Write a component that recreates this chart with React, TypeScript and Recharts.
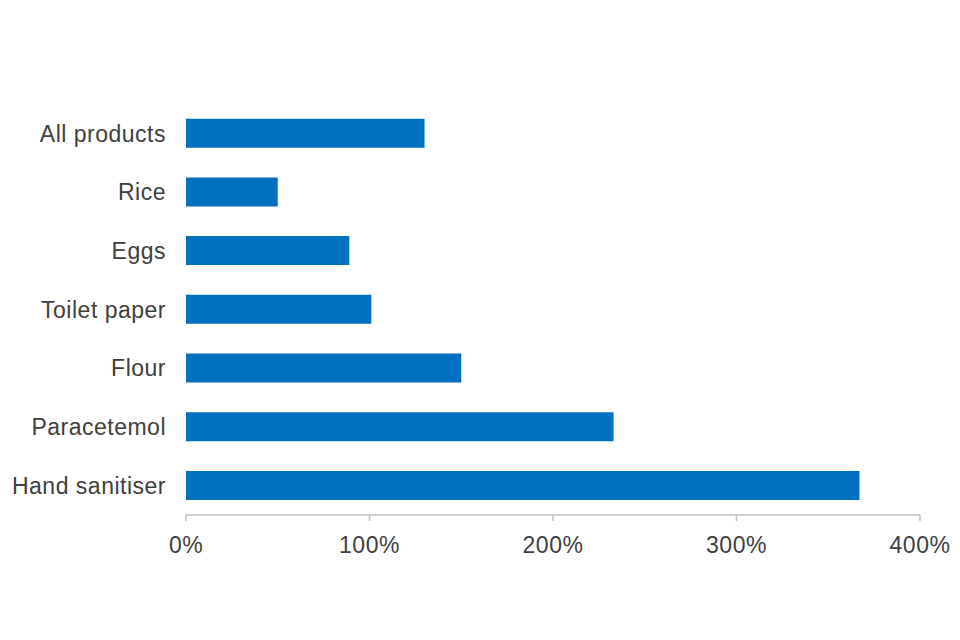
import { Bar, BarChart, XAxis, YAxis } from 'recharts';

const products = ['All products', 'Rice', 'Eggs', 'Toilet paper', 'Flour', 'Paracetemol', 'Hand sanitiser'];
const increase = [130, 50, 89, 101, 150, 233, 367];
const xTicks = [0, 100, 200, 300, 400];

const rows = products.map((name, i) => ({ name, value: increase[i] }));

const font = {
  fontFamily: 'Liberation Sans, Arial, sans-serif',
  fontSize: 23,
  letterSpacing: 0.5,
  fill: '#404040',
};

export default function App() {
  return (
    <div style={{ width: 960, height: 640, background: '#fff' }}>
      <style>{'body{margin:0}'}</style>
      <BarChart
        width={960}
        height={640}
        data={rows}
        layout="vertical"
        margin={{ top: 104, right: 40, bottom: 65, left: 0 }}
        barCategoryGap="25%"
      >
        <XAxis
          type="number"
          domain={[0, 400]}
          ticks={xTicks}
          tickFormatter={(v: number) => `${v}%`}
          axisLine={{ stroke: '#BFBFBF', strokeWidth: 1.5 }}
          tickLine={{ stroke: '#BFBFBF', strokeWidth: 1.5 }}
          tickSize={6}
          tickMargin={16}
          height={60}
          tick={font}
          interval={0}
        />
        <YAxis
          type="category"
          dataKey="name"
          width={186}
          axisLine={false}
          tickLine={false}
          tickSize={0}
          tickMargin={20}
          tick={font}
          interval={0}
        />
        <Bar dataKey="value" fill="#0070C0" isAnimationActive={false} />
      </BarChart>
    </div>
  );
}
